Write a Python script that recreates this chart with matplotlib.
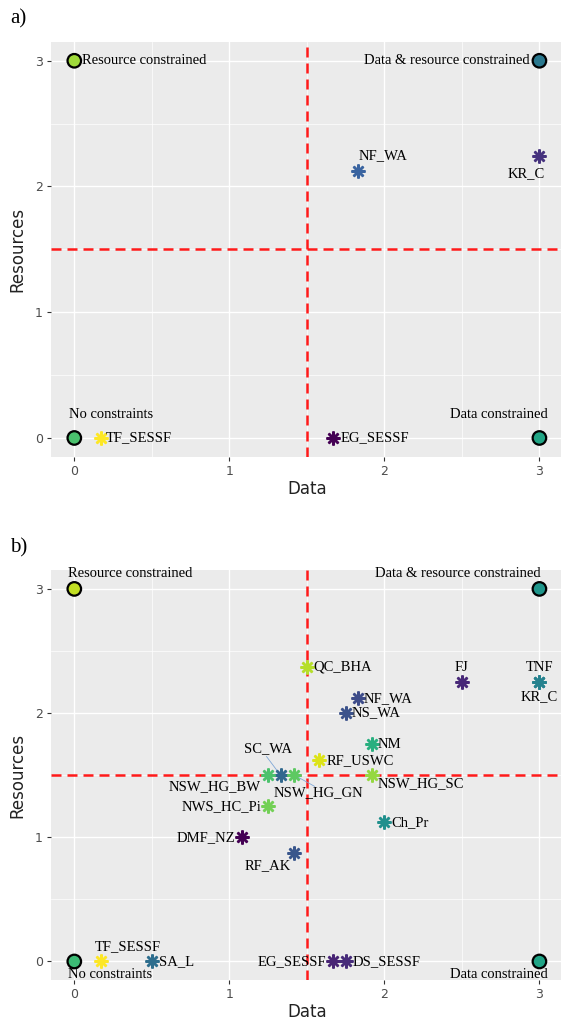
import matplotlib.pyplot as plt

# ---- panel a data ----
a_corner_x = [0, 3, 0, 3]
a_corner_y = [3, 3, 0, 0]
a_corner_lab = ["Resource constrained", "Data & resource constrained",
                "No constraints", "Data constrained"]
a_corner_col = ["#9FDA3A", "#2A788E", "#4AC16D", "#21A585"]

a_site = ["NF_WA", "KR_C", "TF_SESSF", "EG_SESSF"]
a_x = [1.83, 3.0, 0.17, 1.67]
a_y = [2.12, 2.24, 0.0, 0.0]
a_col = ["#3A64A0", "#46337E", "#FDE725", "#440154"]

# ---- panel b data ----
b_corner_x = [0, 3, 0, 3]
b_corner_y = [3, 3, 0, 0]
b_corner_lab = ["Resource constrained", "Data & resource constrained",
                "No constraints", "Data constrained"]
b_corner_col = ["#C2DF23", "#1F968B", "#3CBB75", "#20A486"]

b_site = ["QC_BHA", "FJ", "TNF", "KR_C", "NF_WA", "NS_WA", "NM", "RF_USWC",
          "SC_WA", "NSW_HG_BW", "NSW_HG_GN", "NSW_HG_SC", "NWS_HC_Pi", "Ch_Pr",
          "DMF_NZ", "RF_AK", "TF_SESSF", "SA_L", "EG_SESSF", "DS_SESSF"]
b_x = [1.5, 2.5, 3.0, 3.0, 1.83, 1.75, 1.92, 1.58,
       1.33, 1.25, 1.42, 1.92, 1.25, 2.0,
       1.08, 1.42, 0.17, 0.5, 1.67, 1.75]
b_y = [2.37, 2.25, 2.25, 2.25, 2.12, 2.0, 1.75, 1.62,
       1.5, 1.5, 1.5, 1.5, 1.25, 1.12,
       1.0, 0.87, 0.0, 0.0, 0.0, 0.0]
b_col = ["#B5DE2B", "#482878", "#26828E", "#26828E", "#3E4C8A", "#3B528B",
         "#29AF7F", "#DCE319", "#31688E", "#4CC26C", "#5EC962", "#95D840",
         "#73D056", "#21908D", "#440154", "#39568C", "#FDE725", "#2E6E8E",
         "#482475", "#472C7A"]

# label placement: (dx, dy) in pixels, ha, va
a_corner_pos = [(8, 0, "left", "center"), (-10, 0, "right", "center"),
                (-5, 17, "left", "bottom"), (8, 17, "right", "bottom")]
a_site_pos = [(1, 9, "left", "bottom"), (5, -11, "right", "top"),
              (5, 0, "left", "center"), (7, 0, "left", "center")]

b_corner_pos = [(-6, 9, "left", "bottom"), (1, 9, "right", "bottom"),
                (-6, -7, "left", "top"), (8, -7, "right", "top")]
b_site_pos = {
    "QC_BHA": (7, 0, "left", "center"), "FJ": (0, 8, "center", "bottom"),
    "TNF": (0, 8, "center", "bottom"), "KR_C": (0, -8, "center", "top"),
    "NF_WA": (6, 0, "left", "center"), "NS_WA": (6, 0, "left", "center"),
    "NM": (6, 0, "left", "center"), "RF_USWC": (7, 0, "left", "center"),
    "SC_WA": (-12, 20, "center", "bottom"), "NSW_HG_BW": (-7, -5, "right", "top"),
    "NSW_HG_GN": (24, -11, "center", "top"), "NSW_HG_SC": (6, -2, "left", "top"),
    "NWS_HC_Pi": (-7, 0, "right", "center"), "Ch_Pr": (7, 0, "left", "center"),
    "DMF_NZ": (-7, 0, "right", "center"), "RF_AK": (-4, -6, "right", "top"),
    "TF_SESSF": (-6, 8, "left", "bottom"), "SA_L": (7, 0, "left", "center"),
    "EG_SESSF": (-7, 0, "right", "center"), "DS_SESSF": (7, 0, "left", "center"),
}

serif = "Liberation Serif"
lab_size = 10.5
star = (8, 2, 0)


def style_axes(ax):
    ax.set_facecolor("#EBEBEB")
    ax.set_xlim(-0.15, 3.15)
    ax.set_ylim(-0.15, 3.15)
    ax.set_xticks([0, 1, 2, 3])
    ax.set_yticks([0, 1, 2, 3])
    ax.set_xticks([0.5, 1.5, 2.5], minor=True)
    ax.set_yticks([0.5, 1.5, 2.5], minor=True)
    ax.grid(which="major", color="white", lw=1.0)
    ax.grid(which="minor", color="white", lw=0.5)
    ax.set_axisbelow(True)
    for s in ax.spines.values():
        s.set_visible(False)
    ax.tick_params(which="major", length=3, color="#333333", width=0.8,
                   labelsize=9, labelcolor="#4D4D4D", pad=3)
    ax.tick_params(which="minor", length=0)
    ax.set_xlabel("Data", fontsize=12, color="#222222", labelpad=1)
    ax.set_ylabel("Resources", fontsize=12, color="#222222", labelpad=6)
    ax.axvline(1.5, color="#FF1A1A", lw=1.8, ls=(0, (4, 2.4)), zorder=2)
    ax.axhline(1.5, color="#FF1A1A", lw=1.8, ls=(0, (4, 2.4)), zorder=2)


def put_label(ax, x, y, text, pos):
    dx, dy, ha, va = pos
    ax.annotate(text, (x, y), xytext=(dx * 0.72, dy * 0.72),
                textcoords="offset points", ha=ha, va=va,
                fontsize=lab_size, family=serif, color="black", zorder=5)


fig = plt.figure(figsize=(5.61, 10.22), dpi=100)

# ---- panel a ----
ax1 = fig.add_axes([0.091, 0.553, 0.912, 0.406])
style_axes(ax1)
ax1.scatter(a_corner_x, a_corner_y, s=95, c=a_corner_col, edgecolors="black",
            linewidths=1.6, zorder=4)
for i in range(len(a_site)):
    ax1.plot(a_x[i], a_y[i], marker=star, ms=10, mew=1.8, color=a_col[i],
             ls="none", zorder=4)
    put_label(ax1, a_x[i], a_y[i], a_site[i], a_site_pos[i])
for i in range(4):
    put_label(ax1, a_corner_x[i], a_corner_y[i], a_corner_lab[i], a_corner_pos[i])
fig.text(0.018, 0.982, "a)", fontsize=15, family=serif, va="center")

# ---- panel b ----
ax2 = fig.add_axes([0.091, 0.041, 0.912, 0.401])
style_axes(ax2)
ax2.scatter(b_corner_x, b_corner_y, s=95, c=b_corner_col, edgecolors="black",
            linewidths=1.6, zorder=4)
# repel segments
sc = b_site.index("SC_WA")
gn = b_site.index("NSW_HG_GN")
ax2.plot([b_x[sc] - 0.09, b_x[sc]], [b_y[sc] + 0.15, b_y[sc]],
         color="#7FA7D6", lw=0.6, zorder=3)
ax2.plot([b_x[gn], b_x[gn] + 0.13], [b_y[gn], b_y[gn] - 0.09],
         color="#7FA7D6", lw=0.6, zorder=3)
for i in range(len(b_site)):
    ax2.plot(b_x[i], b_y[i], marker=star, ms=10, mew=1.8, color=b_col[i],
             ls="none", zorder=4)
    put_label(ax2, b_x[i], b_y[i], b_site[i], b_site_pos[b_site[i]])
for i in range(4):
    put_label(ax2, b_corner_x[i], b_corner_y[i], b_corner_lab[i], b_corner_pos[i])
fig.text(0.018, 0.464, "b)", fontsize=15, family=serif, va="center")

fig.savefig("out.png", dpi=100)
